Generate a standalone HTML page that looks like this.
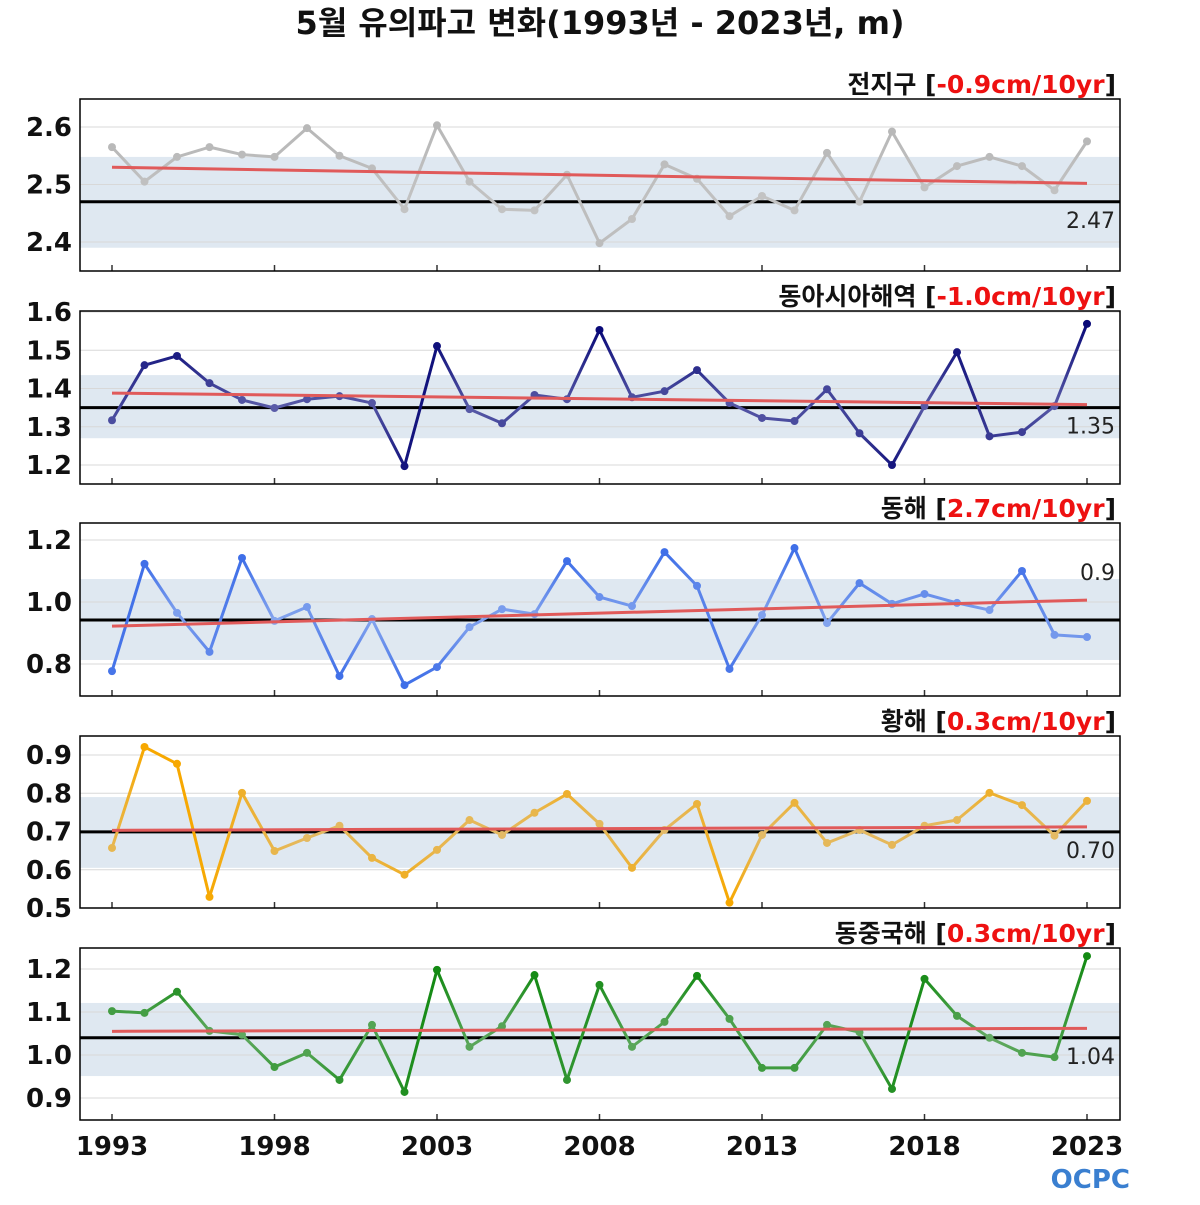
<!DOCTYPE html>
<html><head><meta charset="utf-8"><style>
body{margin:0;background:#fff;}
svg text{font-family:"DejaVu Sans","Noto Sans CJK KR",sans-serif;}
</style></head><body>
<svg id="chart" width="1200" height="1200" viewBox="0 0 1200 1200" xmlns="http://www.w3.org/2000/svg">
<text x="600" y="34" text-anchor="middle" font-size="32" font-weight="bold" fill="#111">5월 유의파고 변화(1993년 - 2023년, m)</text>
<text x="1130" y="1188" text-anchor="end" font-size="26" font-weight="bold" fill="#3a7fd0">OCPC</text>
</svg>
<script>
const years = [1993,1994,1995,1996,1997,1998,1999,2000,2001,2002,2003,2004,2005,2006,2007,2008,2009,2010,2011,2012,2013,2014,2015,2016,2017,2018,2019,2020,2021,2022,2023];
const xTicks = [1993,1998,2003,2008,2013,2018,2023];
const globalVals = [2.565,2.505,2.548,2.565,2.552,2.548,2.598,2.55,2.528,2.457,2.603,2.505,2.457,2.455,2.517,2.398,2.44,2.535,2.51,2.445,2.48,2.455,2.555,2.47,2.592,2.495,2.532,2.548,2.532,2.49,2.575];
const eastAsiaVals = [1.317,1.461,1.485,1.414,1.37,1.349,1.372,1.38,1.362,1.197,1.511,1.346,1.309,1.383,1.372,1.553,1.377,1.393,1.448,1.362,1.323,1.315,1.398,1.283,1.2,1.354,1.495,1.275,1.286,1.354,1.569];
const eastSeaVals = [0.777,1.123,0.965,0.839,1.142,0.939,0.984,0.761,0.945,0.732,0.79,0.919,0.977,0.961,1.132,1.016,0.987,1.161,1.052,0.784,0.958,1.174,0.932,1.061,0.994,1.026,0.997,0.974,1.1,0.894,0.887];
const yellowSeaVals = [0.657,0.921,0.877,0.529,0.801,0.649,0.683,0.715,0.631,0.587,0.652,0.730,0.691,0.749,0.798,0.72,0.605,0.704,0.772,0.514,0.691,0.775,0.670,0.704,0.665,0.715,0.730,0.801,0.769,0.689,0.78];
const ecsVals = [1.102,1.098,1.147,1.056,1.047,0.972,1.005,0.942,1.07,0.914,1.198,1.019,1.067,1.186,0.942,1.163,1.019,1.077,1.184,1.084,0.970,0.970,1.07,1.053,0.921,1.177,1.091,1.04,1.005,0.995,1.23];
const panelNames = ["전지구","동아시아해역","동해","황해","동중국해"];
const trendLabels = ["-0.9cm/10yr","-1.0cm/10yr","2.7cm/10yr","0.3cm/10yr","0.3cm/10yr"];
const meanVals = [2.47,1.35,0.942,0.699,1.04];
const meanLabels = ["2.47","1.35","0.9","0.70","1.04"];
const trendStart = [2.53,1.388,0.922,0.703,1.055];
const trendEnd = [2.502,1.358,1.006,0.712,1.062];
const bandLo = [2.39,1.27,0.813,0.605,0.951];
const bandHi = [2.548,1.435,1.074,0.79,1.121];
const yTicks = [[2.4,2.5,2.6],[1.2,1.3,1.4,1.5,1.6],[0.8,1.0,1.2],[0.5,0.6,0.7,0.8,0.9],[0.9,1.0,1.1,1.2]];
const yTickFmt = [1,1,1,1,1];
const seriesAll = [globalVals,eastAsiaVals,eastSeaVals,yellowSeaVals,ecsVals];
</script>
<script>
const NS="http://www.w3.org/2000/svg";
const svg=document.getElementById('chart');
const panels=[
 {top:99,bot:271,vTop:2.6,yTop:127,vBot:2.4,yBot:242,light:"#c4c4c4",dark:"#b8b8b8",labelAbove:false},
 {top:311,bot:484,vTop:1.6,yTop:312,vBot:1.2,yBot:465,light:"#5a5ca8",dark:"#0a0a78",labelAbove:false},
 {top:523,bot:696,vTop:1.2,yTop:540,vBot:0.8,yBot:664,light:"#86a6ee",dark:"#3f6fe8",labelAbove:true},
 {top:736,bot:908,vTop:0.9,yTop:755,vBot:0.5,yBot:908,light:"#e2bb6a",dark:"#f7a800",labelAbove:false},
 {top:948,bot:1120,vTop:1.2,yTop:969,vBot:0.9,yBot:1098,light:"#64aa64",dark:"#138a13",labelAbove:false}];
const X0=80,X1=1120;
function xs(yr){return 112+(yr-1993)*(1087-112)/30;}
function mk(tag,attrs,parent){const e=document.createElementNS(NS,tag);for(const k in attrs)e.setAttribute(k,attrs[k]);(parent||svg).appendChild(e);return e;}
function hex(c){return [1,3,5].map(i=>parseInt(c.substr(i,2),16));}
function mix(a,b,t){const A=hex(a),B=hex(b);return 'rgb('+A.map((v,i)=>Math.round(v+(B[i]-v)*t)).join(',')+')';}
panels.forEach((p,i)=>{
 const ys=v=>p.yTop+(v-p.vTop)*(p.yBot-p.yTop)/(p.vBot-p.vTop);
 const g=mk('g',{});
 
 
 const band=mk('rect',{x:X0,y:ys(bandHi[i]),width:X1-X0,height:ys(bandLo[i])-ys(bandHi[i]),fill:'#dfe8f1'},g);
 
 
 yTicks[i].forEach(t=>{
  const gl=mk('line',{x1:X0,x2:X1,y1:ys(t),y2:ys(t),stroke:'#d8d8d8','stroke-width':1},g);
  
  
  const tl=mk('text',{x:72,y:ys(t)+9,'text-anchor':'end','font-size':26,'font-weight':'bold',fill:'#111'},g);
  tl.textContent=t.toFixed(yTickFmt[i]);
  
  
 });
 xTicks.forEach(t=>{mk('line',{x1:xs(t),x2:xs(t),y1:p.bot-6,y2:p.bot,stroke:'#333','stroke-width':1.5},g);});
 const ml=mk('line',{x1:X0,x2:X1,y1:ys(meanVals[i]),y2:ys(meanVals[i]),stroke:'#000','stroke-width':3},g);
 
 
 const vals=seriesAll[i];
 const rng=Math.max(...vals.map(v=>Math.abs(v-meanVals[i])));
 const col=v=>mix(p.light,p.dark,Math.min(1,Math.abs(v-meanVals[i])/(rng*0.8)));
 for(let k=0;k<vals.length-1;k++){
  const id='g'+i+'_'+k;
  const lg=mk('linearGradient',{id:id,gradientUnits:'userSpaceOnUse',x1:xs(years[k]),y1:ys(vals[k]),x2:xs(years[k+1]),y2:ys(vals[k+1])},g);
  mk('stop',{offset:0,'stop-color':col(vals[k])},lg);
  mk('stop',{offset:1,'stop-color':col(vals[k+1])},lg);
  const seg=mk('line',{x1:xs(years[k]),y1:ys(vals[k]),x2:xs(years[k+1]),y2:ys(vals[k+1]),stroke:'url(#'+id+')','stroke-width':3,'stroke-linecap':'round'},g);
  
  
 }
 vals.forEach((v,k)=>{
  const c=mk('circle',{cx:xs(years[k]),cy:ys(v),r:4,fill:col(v)},g);
  
  
 });
 const tr=mk('line',{x1:xs(1993),y1:ys(trendStart[i]),x2:xs(2023),y2:ys(trendEnd[i]),stroke:'#e05a5a','stroke-width':3},g);
 
 
 const fr=mk('rect',{x:X0,y:p.top,width:X1-X0,height:p.bot-p.top,fill:'none',stroke:'#000','stroke-width':1.5},g);
 
 
 const mt=mk('text',{x:1115,y:ys(meanVals[i])+26,'text-anchor':'end','font-size':22,fill:'#222'},g);
 if(p.labelAbove) mt.setAttribute('y',580);
 mt.textContent=meanLabels[i];
 
 
 const pt=mk('text',{x:1116,y:p.top-6,'text-anchor':'end','font-size':25,'font-weight':'bold',fill:'#111'},g);
 
 
 const s1=mk('tspan',{},pt);s1.textContent=panelNames[i]+' [';
 const s2=mk('tspan',{fill:'#ee1111'},pt);s2.textContent=trendLabels[i];
 const s3=mk('tspan',{},pt);s3.textContent=']';
});
xTicks.forEach(t=>{
 const tl=mk('text',{x:xs(t),y:1155,'text-anchor':'middle','font-size':26,'font-weight':'bold',fill:'#111'});
 tl.textContent=t;
 
 
});
</script>
</body></html>
